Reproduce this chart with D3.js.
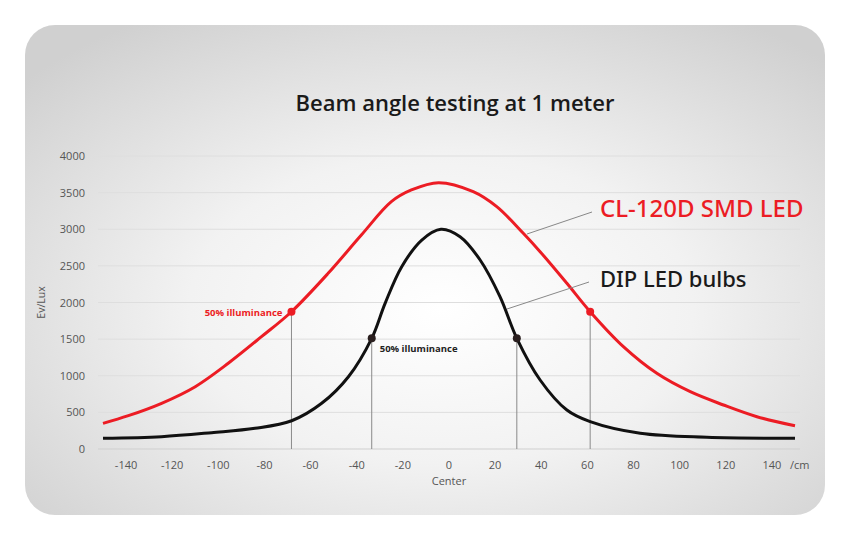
<!DOCTYPE html>
<html>
<head>
<meta charset="utf-8">
<script src="https://cdn.jsdelivr.net/npm/d3@7/dist/d3.min.js"></script>
<style>
  body { margin: 0; background: #fff; }
  svg { display: block; }
</style>
</head>
<body>
<div id="chart"></div>
<script>
// values (cm from center, lux)
var smdCm  = [-150, -139, -124.6, -110, -95.7, -81.3, -68.3, -52.4, -38, -25, -16.3, -4.5, 10.5, 20.7, 32.2, 39.5, 51.1, 61.2, 75.6, 90.1, 104.6, 119, 133.5, 150];
var smdLux = [350, 455, 624, 851, 1170, 1533, 1874, 2398, 2921, 3376, 3536, 3636, 3513, 3308, 2945, 2694, 2262, 1874, 1397, 1033, 782, 601, 441, 318];

var dipCm  = [-150, -124.6, -102.9, -84.1, -68.2, -55.2, -43.6, -33.5, -27.7, -20.5, -11.8, -3.5, 4.8, 13.5, 22.1, 29.4, 39.5, 51.1, 61.2, 82.9, 111.8, 150];
var dipLux = [146, 168, 223, 282, 386, 624, 987, 1511, 1989, 2489, 2853, 3000, 2898, 2580, 2080, 1511, 942, 532, 373, 214, 160, 146];

var halfSmd = [{cm: -68.3, lux: 1874}, {cm: 61.2, lux: 1874}];
var halfDip = [{cm: -33.5, lux: 1511}, {cm: 29.4, lux: 1511}];

var yTicks = [0, 500, 1000, 1500, 2000, 2500, 3000, 3500, 4000];
var xTicks = [-140, -120, -100, -80, -60, -40, -20, 0, 20, 40, 60, 80, 100, 120, 140];

var W = 850, H = 540;
var svg = d3.select("#chart").append("svg")
  .attr("width", W)
  .attr("height", H);

// card background
var defs = svg.append("defs");
var grad = defs.append("radialGradient")
  .attr("id", "bg")
  .attr("cx", "52%").attr("cy", "58%").attr("r", "70%");
grad.append("stop").attr("offset", "0%").attr("stop-color", "#ffffff");
grad.append("stop").attr("offset", "45%").attr("stop-color", "#f2f2f2");
grad.append("stop").attr("offset", "100%").attr("stop-color", "#d0d0d0");

svg.append("rect")
  .attr("x", 25).attr("y", 25)
  .attr("width", 800).attr("height", 490)
  .attr("rx", 30).attr("ry", 30)
  .attr("fill", "url(#bg)");

// scales
var x = d3.scaleLinear().domain([-150, 150]).range([103, 795]);
var y = d3.scaleLinear().domain([0, 4000]).range([449, 156]);

// gridlines
svg.append("g")
  .selectAll("line")
  .data(yTicks)
  .enter().append("line")
    .attr("x1", 98).attr("x2", 800)
    .attr("y1", function(d) { return y(d); })
    .attr("y2", function(d) { return y(d); })
    .attr("stroke", function(d) { return d === 0 ? "#cfcfcf" : "#dedede"; })
    .attr("stroke-width", 1);

// y labels
svg.append("g")
  .selectAll("text")
  .data(yTicks)
  .enter().append("text")
    .attr("x", 85)
    .attr("y", function(d) { return y(d) + 4; })
    .attr("text-anchor", "end")
    .attr("font-family", "Open Sans, sans-serif")
    .attr("font-size", 11)
    .attr("fill", "#555")
    .text(function(d) { return d; });

svg.append("text")
  .attr("transform", "translate(45," + y(2000) + ") rotate(-90)")
  .attr("text-anchor", "middle")
  .attr("font-family", "Open Sans, sans-serif")
  .attr("font-size", 10.5)
  .attr("fill", "#555")
  .text("Ev/Lux");

// x labels
svg.append("g")
  .selectAll("text")
  .data(xTicks)
  .enter().append("text")
    .attr("x", function(d) { return x(d); })
    .attr("y", 469)
    .attr("text-anchor", "middle")
    .attr("font-family", "Open Sans, sans-serif")
    .attr("font-size", 11)
    .attr("fill", "#555")
    .text(function(d) { return d; });

svg.append("text")
  .attr("x", 790).attr("y", 469)
  .attr("font-family", "Open Sans, sans-serif")
  .attr("font-size", 11)
  .attr("fill", "#555")
  .text("/cm");

svg.append("text")
  .attr("x", x(0)).attr("y", 485)
  .attr("text-anchor", "middle")
  .attr("font-family", "Open Sans, sans-serif")
  .attr("font-size", 11)
  .attr("fill", "#555")
  .text("Center");

// title
svg.append("text")
  .attr("x", 455).attr("y", 111)
  .attr("text-anchor", "middle")
  .attr("font-family", "Open Sans, sans-serif")
  .attr("font-weight", 600)
  .attr("font-size", 22)
  .attr("fill", "#1a1a1a")
  .text("Beam angle testing at 1 meter");

// drop lines at 50% points
var halves = halfSmd.concat(halfDip);
svg.append("g")
  .selectAll("line")
  .data(halves)
  .enter().append("line")
    .attr("x1", function(d) { return x(d.cm); })
    .attr("x2", function(d) { return x(d.cm); })
    .attr("y1", function(d) { return y(d.lux); })
    .attr("y2", y(0))
    .attr("stroke", "#8a8a8a")
    .attr("stroke-width", 1);

// curves
var line = d3.line()
  .x(function(d) { return x(d[0]); })
  .y(function(d) { return y(d[1]); })
  .curve(d3.curveCatmullRom.alpha(0.5));

svg.append("path")
  .datum(d3.zip(dipCm, dipLux))
  .attr("fill", "none")
  .attr("stroke", "#111")
  .attr("stroke-width", 3)
  .attr("d", line);

svg.append("path")
  .datum(d3.zip(smdCm, smdLux))
  .attr("fill", "none")
  .attr("stroke", "#ec1c24")
  .attr("stroke-width", 3)
  .attr("d", line);

// markers
svg.append("g")
  .selectAll("circle")
  .data(halfSmd)
  .enter().append("circle")
    .attr("cx", function(d) { return x(d.cm); })
    .attr("cy", function(d) { return y(d.lux); })
    .attr("r", 4)
    .attr("fill", "#ec1c24");

svg.append("g")
  .selectAll("circle")
  .data(halfDip)
  .enter().append("circle")
    .attr("cx", function(d) { return x(d.cm); })
    .attr("cy", function(d) { return y(d.lux); })
    .attr("r", 4)
    .attr("fill", "#2a1f1f");

// annotations
svg.append("text")
  .attr("x", x(halfSmd[0].cm) - 9)
  .attr("y", y(halfSmd[0].lux) + 4)
  .attr("text-anchor", "end")
  .attr("font-family", "Open Sans, sans-serif")
  .attr("font-weight", 700)
  .attr("font-size", 9.5)
  .attr("fill", "#ec1c24")
  .text("50% illuminance");

svg.append("text")
  .attr("x", x(halfDip[0].cm) + 8)
  .attr("y", y(halfDip[0].lux) + 14)
  .attr("font-family", "Open Sans, sans-serif")
  .attr("font-weight", 700)
  .attr("font-size", 9.5)
  .attr("fill", "#222")
  .text("50% illuminance");

// legend leaders and labels
svg.append("line")
  .attr("x1", 527).attr("y1", 234).attr("x2", 592).attr("y2", 212)
  .attr("stroke", "#888").attr("stroke-width", 1);
svg.append("line")
  .attr("x1", 507).attr("y1", 309).attr("x2", 589).attr("y2", 282)
  .attr("stroke", "#888").attr("stroke-width", 1);

svg.append("text")
  .attr("x", 600).attr("y", 217)
  .attr("font-family", "Noto Sans, sans-serif")
  .attr("font-weight", 500)
  .attr("font-size", 24)
  .attr("fill", "#ec1c24")
  .text("CL-120D SMD LED");

svg.append("text")
  .attr("x", 600).attr("y", 287)
  .attr("font-family", "Noto Sans, sans-serif")
  .attr("font-weight", 500)
  .attr("font-size", 22)
  .attr("fill", "#1a1a1a")
  .text("DIP LED bulbs");
</script>
</body>
</html>
